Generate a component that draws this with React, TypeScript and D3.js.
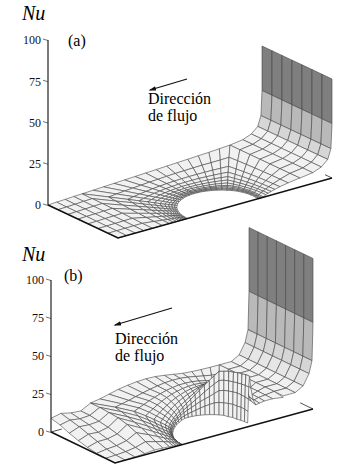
import React, { useEffect, useRef } from "react";
import * as d3 from "d3";

// Mesh structure: logical stations of the three grid blocks
const ringStationsA = [0, 0.025, 0.055, 0.09, 0.13, 0.18, 0.24, 0.31, 0.4, 0.52, 0.72, 1];
const ringStationsB = [0, 0.01, 0.02, 0.03, 0.05, 0.09, 0.15, 0.23, 0.33, 0.47, 0.7, 1];
const approachStations = [0.85, 0.91, 0.95, 0.98, 0.995, 1, 1];
const spanStations = [0, 1 / 7, 2 / 7, 3 / 7, 4 / 7, 5 / 7, 6 / 7, 1];
const axisTicks = [0, 25, 50, 75, 100];

// Panel (a): Nu
const nuRingA = [0, 0, 0, 0, 0.1, 0.1, 0.1, 0.2, 0.2, 0.3, 0.3, 0.4, 0.5, 0.5, 0.6, 0.6, 0.7, 0.7, 0.8, 0.8, 0.9, 0.9, 1, 1, 0.9, 0.8, 0.6, 0.3, 0];
const nuAroundA = [
  nuRingA,
  nuRingA,
  nuRingA,
  nuRingA,
  nuRingA,
  [0, 0, 0.1, 0.1, 0.1, 0.2, 0.2, 0.2, 0.3, 0.4, 0.4, 0.5, 0.6, 0.6, 0.7, 0.8, 0.8, 0.9, 1, 1.1, 1.1, 1.2, 1.2, 1.2, 1.2, 1.2, 1.2, 1.2, 1.2],
  [0, 0.1, 0.1, 0.1, 0.2, 0.2, 0.3, 0.3, 0.4, 0.5, 0.5, 0.6, 0.7, 0.8, 0.9, 1, 1.1, 1.2, 1.3, 1.4, 1.5, 1.6, 1.6, 1.6, 1.6, 1.6, 1.6, 1.6, 1.6],
  [0, 0.1, 0.1, 0.2, 0.2, 0.3, 0.3, 0.4, 0.5, 0.6, 0.7, 0.8, 0.9, 1, 1.2, 1.3, 1.4, 1.5, 1.7, 1.8, 1.9, 2.1, 2.1, 2.1, 2.1, 2.1, 2.1, 2.1, 2.2],
  [0.1, 0.1, 0.2, 0.2, 0.3, 0.4, 0.4, 0.5, 0.6, 0.7, 0.9, 1, 1.2, 1.3, 1.5, 1.6, 1.8, 2, 2.1, 2.3, 2.5, 2.7, 2.7, 2.7, 2.7, 2.7, 2.7, 2.7, 2.8],
  [0.1, 0.1, 0.2, 0.3, 0.4, 0.5, 0.6, 0.6, 0.8, 0.9, 1.1, 1.3, 1.5, 1.7, 1.9, 2.1, 2.3, 2.5, 2.7, 3, 3.2, 3.5, 3.5, 3.5, 3.5, 3.5, 3.5, 3.5, 3.6],
  [0.1, 0.2, 0.3, 0.4, 0.5, 0.6, 0.7, 0.8, 1, 1.2, 1.4, 1.6, 1.9, 2.1, 2.4, 2.7, 2.9, 3.2, 3.5, 3.7, 4, 4.4, 4.4, 4.4, 4.4, 4.4, 4.4, 4.4, 4.5],
  [0.1, 0.2, 0.4, 0.6, 0.7, 0.8, 0.9, 1, 1.3, 1.6, 1.9, 2.2, 2.5, 2.8, 3.1, 3.4, 3.7, 4, 4.3, 4.6, 5, 5.4, 5.4, 5.4, 5.4, 5.4, 5.4, 5.4, 5.5],
];
const nuWakeA = [
  [0, 0.3, 0.5, 0.8, 1],
  [0, 0.2, 0.4, 0.7, 0.9],
  [0, 0.2, 0.4, 0.6, 0.8],
  [0, 0.2, 0.3, 0.5, 0.7],
  [0, 0.1, 0.3, 0.4, 0.6],
  [0, 0.1, 0.2, 0.3, 0.4],
  [0, 0.1, 0.1, 0.2, 0.2],
  [0, 0, 0.1, 0.1, 0.1],
];
const nuApproachA = [5.4, 6.5, 8.5, 12, 18, 33, 60];

// Panel (b): Nu
const nuAroundB = [
  [0, 0, 0, 0, 0.2, 0.3, 0.5, 0.7, 1, 1.5, 2, 2.5, 3, 3.5, 3.5, 3.5, 3.5, 3.5, 3.5, 3.5, 3.5, 3.5, 3.5, 3, 3, 2.5, 2.5, 2.5, 2.5],
  [0.1, 0.1, 0.2, 0.3, 0.5, 0.7, 1, 1.4, 1.8, 2.4, 3, 3.7, 4.5, 5, 5.6, 6.2, 7, 8, 9, 10, 11, 11.5, 11.5, 11.5, 11.5, 11, 11, 10.5, 10],
  [0.2, 0.2, 0.4, 0.6, 0.9, 1.2, 1.7, 2.2, 2.7, 3.3, 4, 5, 6, 7, 8, 9, 10.5, 12, 13.5, 15, 17, 19, 19.5, 19.5, 19.5, 19.5, 19, 18.5, 18],
  [0.2, 0.4, 0.6, 0.9, 1.2, 1.7, 2.3, 2.9, 3.5, 4.2, 5, 6, 7.2, 8.5, 10, 11.5, 13.5, 15.5, 18, 20.5, 23, 25.5, 26, 26, 26, 26, 26, 26, 26],
  [0.3, 0.5, 0.8, 1.2, 1.6, 2.2, 3, 3.5, 4.2, 5, 6, 7.2, 8.5, 10, 12, 14, 16.5, 19, 22, 25, 28, 31, 31.5, 32, 32, 32.5, 32.5, 33, 33],
  [0.4, 0.8, 1.2, 1.7, 2.3, 3, 3.7, 4.5, 5.3, 6.2, 7.2, 8.5, 10, 11.5, 13, 15, 17, 19.5, 21.5, 23.5, 25.5, 27, 27, 27, 27, 26.5, 26, 26, 25],
  [0.5, 1, 1.6, 2.3, 3, 3.8, 4.6, 5.6, 6.6, 7.6, 8.6, 10, 11.5, 13, 14.5, 16, 17.5, 19, 20.5, 21.5, 22.5, 23, 22.5, 22, 21, 20, 19, 18, 17],
  [0.6, 1.3, 2.1, 3, 4, 5, 6, 7, 8, 9, 10.2, 11.6, 13, 14.4, 15.6, 16.8, 17.8, 18.6, 19.2, 19.8, 20, 20, 19, 18, 17, 16, 15, 14, 13],
  [0.8, 1.8, 2.8, 4, 5.2, 6.5, 7.6, 8.7, 9.7, 10.7, 12, 13.2, 14.5, 15.6, 16.6, 17.4, 18, 18.4, 18.5, 18.3, 18, 18, 17, 16, 15.5, 15, 14.5, 14, 13.5],
  [1, 2.4, 3.8, 5.3, 6.8, 8.2, 9.4, 10.5, 11.4, 12.3, 13.4, 14.4, 15.5, 16.5, 17.2, 17.8, 18, 18, 17.6, 17, 16.3, 16, 15.6, 15.2, 15, 14.8, 14.6, 14.4, 14],
  [1.2, 3.1, 5.3, 7.3, 8.7, 9.9, 10.9, 11.5, 12.2, 13, 14, 15, 16, 16.8, 17.5, 17.8, 17.8, 17.3, 16.5, 15.7, 15, 15, 14.8, 14.6, 14.5, 14.5, 14.4, 14.2, 14],
  [1.5, 4, 7, 9.5, 11, 11.5, 12, 12, 13, 14.5, 16, 17, 17.7, 18, 17.8, 17, 16, 15, 14.5, 14.2, 14, 14, 14, 14, 14, 14, 14, 14, 13],
];
const nuWakeB = [
  [9, 10.5, 9, 8.5, 12],
  [7.5, 9, 8, 8.5, 12],
  [5, 7.5, 7, 7.5, 11.5],
  [3, 5.5, 5, 6.5, 11],
  [1.5, 3.5, 3.5, 5, 9.5],
  [0.5, 1.5, 2, 3.5, 7],
  [0.2, 0.5, 1, 2, 4],
  [0, 0.2, 0.4, 0.8, 1.5],
];
const nuApproachB = [14, 14, 17, 24, 32, 57, 99];

const panelA = {
  label: "(a)",
  origin: [48, 205],
  stream: [214, -60],
  span: [70, 33],
  nuPx: 165,
  wakeEnd: 0.16,
  center: 0.49,
  ring: ringStationsA,
  around: nuAroundA,
  wake: nuWakeA,
  approach: nuApproachA,
  bands: [11, 14, 20, 33],
  nuTitle: [22, 20],
  labelAt: [68, 46],
  arrow: [[187, 79], [150, 90]],
  textAt: [148, 104],
  backStub: 0,
  sideStub: 0.9,
};

const panelB = {
  label: "(b)",
  origin: [51, 432],
  stream: [198, -54],
  span: [64, 31],
  nuPx: 152,
  wakeEnd: 0.2,
  center: 0.505,
  ring: ringStationsB,
  around: nuAroundB,
  wake: nuWakeB,
  approach: nuApproachB,
  bands: [20, 26, 33, 58],
  nuTitle: [22, 261],
  labelAt: [64, 281],
  arrow: [[172, 308], [115, 325]],
  textAt: [115, 344],
  backStub: 0.055,
  sideStub: 0.8,
};

const bandColors = ["#f1f1f1", "#e6e6e6", "#d6d6d6", "#b9b9b9", "#7f7f7f"];
const SERIF = "'Liberation Serif', serif";

type Node = { x: number; z: number; nu: number };

// radius of the half cylinder in stream / span units
const radiusX = 0.165;
const radiusZ = 0.42;

function buildCells(p: typeof panelA) {
  const cols = p.around[0].length;
  const around: Node[][] = p.around.map((row, j) =>
    row.map((nu, i) => {
      const theta = Math.PI * (1 - i / (cols - 1));
      const inX = p.center + radiusX * Math.cos(theta);
      const inZ = 1 - radiusZ * Math.sin(theta);
      // outer edge of the ring: left side, back edge, right side
      let outX: number, outZ: number;
      if (i <= 7) {
        outX = p.wakeEnd;
        outZ = 1 - i / 7;
      } else if (i <= 21) {
        outX = p.wakeEnd + ((0.85 - p.wakeEnd) * (i - 7)) / 14;
        outZ = 0;
      } else {
        outX = 0.85;
        outZ = (i - 21) / 7;
      }
      const s = p.ring[j];
      return { x: inX + (outX - inX) * s, z: inZ + (outZ - inZ) * s, nu };
    })
  );
  const wakeX = d3.scaleLinear().domain([0, 4]).range([0, p.wakeEnd]);
  const wake: Node[][] = p.wake.map((row, k) =>
    row.map((nu, c) => ({ x: wakeX(c), z: spanStations[k], nu }))
  );
  const approach: Node[][] = spanStations.map((z) =>
    p.approach.map((nu, c) => ({ x: approachStations[c], z, nu }))
  );
  const cells: { n: Node[]; flat: boolean }[] = [];
  [around, wake, approach].forEach((grid, b) => {
    for (let r = 0; r < grid.length - 1; r++) {
      for (let c = 0; c < grid[r].length - 1; c++) {
        cells.push({
          n: [grid[r][c], grid[r][c + 1], grid[r + 1][c + 1], grid[r + 1][c]],
          flat: b !== 2,
        });
      }
    }
  });
  return cells;
}

function drawPanel(svg: any, p: typeof panelA) {
  const g = svg.append("g");
  const sx = d3.scaleLinear().domain([0, 1]).range([0, p.stream[0]]);
  const sy = d3.scaleLinear().domain([0, 1]).range([0, p.stream[1]]);
  const zx = d3.scaleLinear().domain([0, 1]).range([0, p.span[0]]);
  const zy = d3.scaleLinear().domain([0, 1]).range([0, p.span[1]]);
  const y = d3.scaleLinear().domain([0, 100]).range([p.origin[1], p.origin[1] - p.nuPx]);
  const project = (x: number, z: number, nu = 0): [number, number] => [
    p.origin[0] + sx(x) + zx(z),
    y(nu) + sy(x) + zy(z),
  ];
  const shade = d3.scaleThreshold<number, string>().domain(p.bands).range(bandColors);
  const line = d3.line();

  // back stubs of the floor
  if (p.backStub > 0) {
    g.append("path").attr("d", line([project(0, 0), project(p.backStub, 0)])).attr("fill", "none").attr("stroke", "#222").attr("stroke-width", 0.8);
  }
  g.append("path").attr("d", line([project(1, 1), project(1, p.sideStub)])).attr("fill", "none").attr("stroke", "#222").attr("stroke-width", 0.8);

  // surface, back to front
  const depth = (n: Node[]) => d3.mean(n, (d) => sy(d.x) + zy(d.z)) as number;
  const cells = buildCells(p).sort((a, b) => depth(a.n) - depth(b.n));
  g.append("g")
    .selectAll("path")
    .data(cells)
    .join("path")
    .attr("d", (c: any) => line(c.n.map((d: Node) => project(d.x, d.z, d.nu))) + "Z")
    .attr("fill", (c: any) => (c.flat ? bandColors[0] : shade(d3.mean(c.n, (d: Node) => d.nu) as number)))
    .attr("stroke", "#444")
    .attr("stroke-width", 0.6)
    .attr("stroke-linejoin", "round");

  // floor front edges
  g.append("path")
    .attr("d", line([project(0, 0), project(0, 1), project(1, 1)]))
    .attr("fill", "none")
    .attr("stroke", "#111")
    .attr("stroke-width", 1.5);

  // Nu axis
  const axis = g.append("g")
    .attr("transform", `translate(${p.origin[0]},0)`)
    .call(d3.axisLeft(y).tickValues(axisTicks).tickSize(5).tickPadding(2));
  axis.select(".domain").attr("stroke", "#222").attr("stroke-width", 1.2).attr("d", `M0,${y(100)}V${y(0)}`);
  axis.selectAll(".tick line").attr("stroke", "#333").attr("stroke-width", 0.7).attr("y2", -1.5);
  axis.selectAll(".tick text").attr("font-family", SERIF).attr("font-size", 12).attr("fill", "#111");

  // labels
  g.append("text").attr("x", p.nuTitle[0]).attr("y", p.nuTitle[1]).attr("font-family", SERIF).attr("font-style", "italic").attr("font-size", 20).text("Nu");
  g.append("text").attr("x", p.labelAt[0]).attr("y", p.labelAt[1]).attr("font-family", SERIF).attr("font-size", 16).text(p.label);
  const [tx, ty] = p.textAt;
  g.append("text").attr("x", tx).attr("y", ty).attr("font-family", SERIF).attr("font-size", 16).text("Dirección");
  g.append("text").attr("x", tx).attr("y", ty + 17).attr("font-family", SERIF).attr("font-size", 16).text("de flujo");

  // flow arrow
  g.append("path").attr("d", line(p.arrow as [number, number][])).attr("stroke", "#111").attr("stroke-width", 1.2).attr("fill", "none").attr("marker-end", "url(#head)");
}

export default function App() {
  const svgRef = useRef<SVGSVGElement>(null);

  useEffect(() => {
    const svg = d3.select(svgRef.current);
    svg.selectAll("*").remove();
    svg.append("defs")
      .append("marker")
      .attr("id", "head")
      .attr("viewBox", "0 0 10 6")
      .attr("refX", 8)
      .attr("refY", 3)
      .attr("markerWidth", 8)
      .attr("markerHeight", 4.5)
      .attr("markerUnits", "userSpaceOnUse")
      .attr("orient", "auto")
      .append("path")
      .attr("d", "M0,0L10,3L0,6Z")
      .attr("fill", "#111");
    drawPanel(svg, panelA);
    drawPanel(svg, panelB);
  }, []);

  return (
    <svg
      ref={svgRef}
      width={352}
      height={469}
      style={{ position: "absolute", left: 0, top: 0, background: "#fff" }}
    />
  );
}
